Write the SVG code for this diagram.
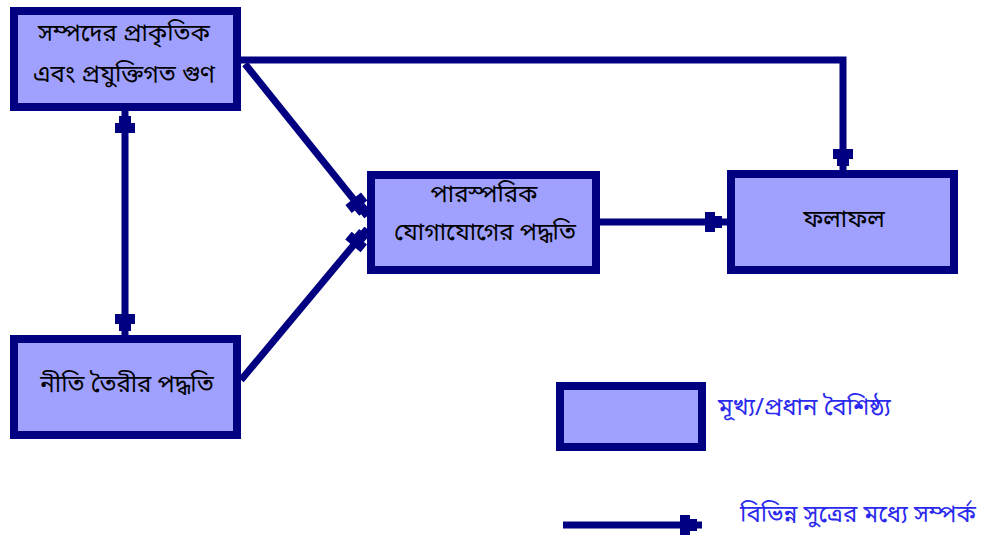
<svg xmlns="http://www.w3.org/2000/svg" width="986" height="537" viewBox="0 0 986 537">
<style>
.box{fill:#a0a0ff;stroke:#000080;stroke-width:8}
.lbl{font-family:"Noto Sans Bengali","Noto Serif Bengali","Lohit Bengali","FreeSerif","Vrinda",sans-serif;font-size:24px;fill:#000;text-anchor:middle;dominant-baseline:central}
.leg{font-family:"Noto Sans Bengali","Noto Serif Bengali","Lohit Bengali","FreeSerif","Vrinda",sans-serif;font-size:24px;fill:#2a2aee;dominant-baseline:central}
.con{fill:none;stroke:#000080;stroke-width:7}
</style>
<defs>
<marker id="ah" markerUnits="userSpaceOnUse" viewBox="-23 -11 24 22" refX="0" refY="0" markerWidth="24" markerHeight="22" orient="auto-start-reverse">
<path d="M-22,-10 L-12,-10 L-12,-6 L-5,-6 L-5,-3 L0,-3 L0,3 L-5,3 L-5,6 L-12,6 L-12,10 L-22,10 Z" fill="#000080"/>
</marker>
</defs>
<g id="connectors">
<polyline class="con" points="241,60 843,60 843,171" marker-end="url(#ah)"/>
<line class="con" x1="245" y1="64" x2="367" y2="216" marker-end="url(#ah)"/>
<line class="con" x1="241" y1="380" x2="367" y2="229" marker-end="url(#ah)"/>
<line class="con" x1="599" y1="222" x2="727" y2="222" marker-end="url(#ah)"/>
<line class="con" x1="125" y1="111" x2="125" y2="336" marker-start="url(#ah)" marker-end="url(#ah)"/>
</g>
<g id="node-resources">
<rect class="box" x="14" y="11" width="223" height="96"/>
<text class="lbl" x="124" y="35">সম্পদের প্রাকৃতিক</text>
<text class="lbl" x="124" y="76">এবং প্রযুক্তিগত গুণ</text>
</g>
<g id="node-policy">
<rect class="box" x="14" y="339" width="223" height="96"/>
<text class="lbl" x="127" y="386">নীতি তৈরীর পদ্ধতি</text>
</g>
<g id="node-interaction">
<rect class="box" x="371" y="175" width="225" height="95"/>
<text class="lbl" x="484" y="196">পারস্পরিক</text>
<text class="lbl" x="485" y="234">যোগাযোগের পদ্ধতি</text>
</g>
<g id="node-outcome">
<rect class="box" x="731" y="174" width="223" height="96"/>
<text class="lbl" x="844" y="221">ফলাফল</text>
</g>
<g id="legend">
<rect class="box" x="560" y="386" width="142" height="61"/>
<text class="leg" x="718" y="409">মূখ্য/প্রধান বৈশিষ্ঠ্য</text>
<line class="con" x1="563" y1="525" x2="702" y2="525" marker-end="url(#ah)"/>
<text class="leg" x="740" y="516">বিভিন্ন সুত্রের মধ্যে সম্পর্ক</text>
</g>
</svg>
